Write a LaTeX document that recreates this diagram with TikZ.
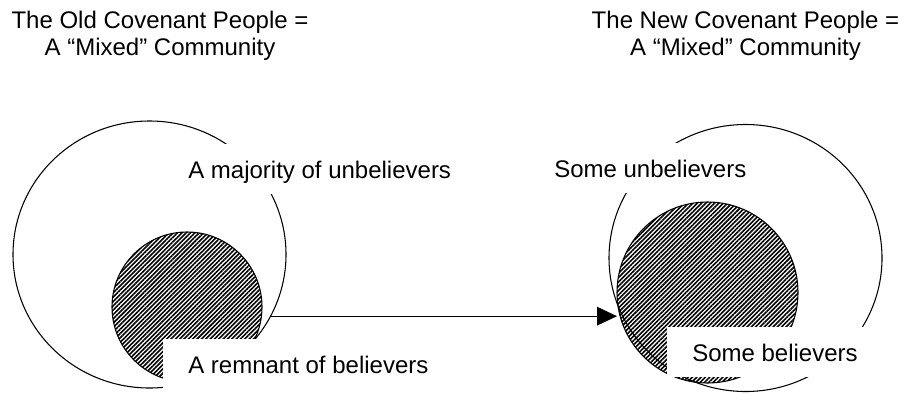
\documentclass[tikz,border=0pt]{standalone}
\usepackage{fontspec}
\setmainfont{Liberation Sans}
\usetikzlibrary{arrows.meta,shapes.geometric,patterns.meta}
\tikzset{
  community/.style={
    ellipse, draw=black, line width=0.8pt, inner sep=0pt, outer sep=0pt,
    minimum width=204.75pt, minimum height=200.25pt},
  remnant/.style={
    circle, draw=black, line width=0.8pt, inner sep=0pt, outer sep=0pt,
    pattern={Lines[angle=45, distance=2.3pt, line width=1.2pt]}},
  grouplabel/.style={
    fill=white, font=\fontsize{18pt}{20.25pt}\selectfont, anchor=base west,
    inner xsep=18.75pt, inner ysep=12pt, text height=13.5pt, text depth=0pt},
  heading/.style={
    font=\fontsize{18pt}{20.25pt}\selectfont, align=center, anchor=base,
    inner sep=0pt},
  shiftarrow/.style={
    -{Triangle[length=15pt, width=14pt]}, line width=0.8pt},
}

\begin{document}
\begin{tikzpicture}[x=0.75pt, y=-0.75pt]
  \useasboundingbox (0,0) rectangle (906,393);
  \node[heading] (oldtitle) at (160,55)   {The Old Covenant People =\\A “Mixed” Community};
  \node[heading] (newtitle) at (745.5,55) {The New Covenant People =\\A “Mixed” Community};
  \node[community] (oldc) at (149.5,254.5) {};
  \node[community] (newc) at (745.5,258)   {};
  \node[remnant, minimum size=112.5pt]  (oldb) at (187,307)     {};
  \node[remnant, minimum size=135.75pt] (newb) at (707.5,292.5) {};
  \draw[shiftarrow] (oldc.-27.3) -- (oldc.-27.3 -| newb.west);
  \node[grouplabel]                  (oldu) at (163,178) {A majority of unbelievers};
  \node[grouplabel, text depth=6pt]  (oldr) at (163,373) {A remnant of believers};
  \node[grouplabel]                  (newu) at (529,177) {Some unbelievers};
  \node[grouplabel]                  (newr) at (667,361) {Some believers};
\end{tikzpicture}
\end{document}
